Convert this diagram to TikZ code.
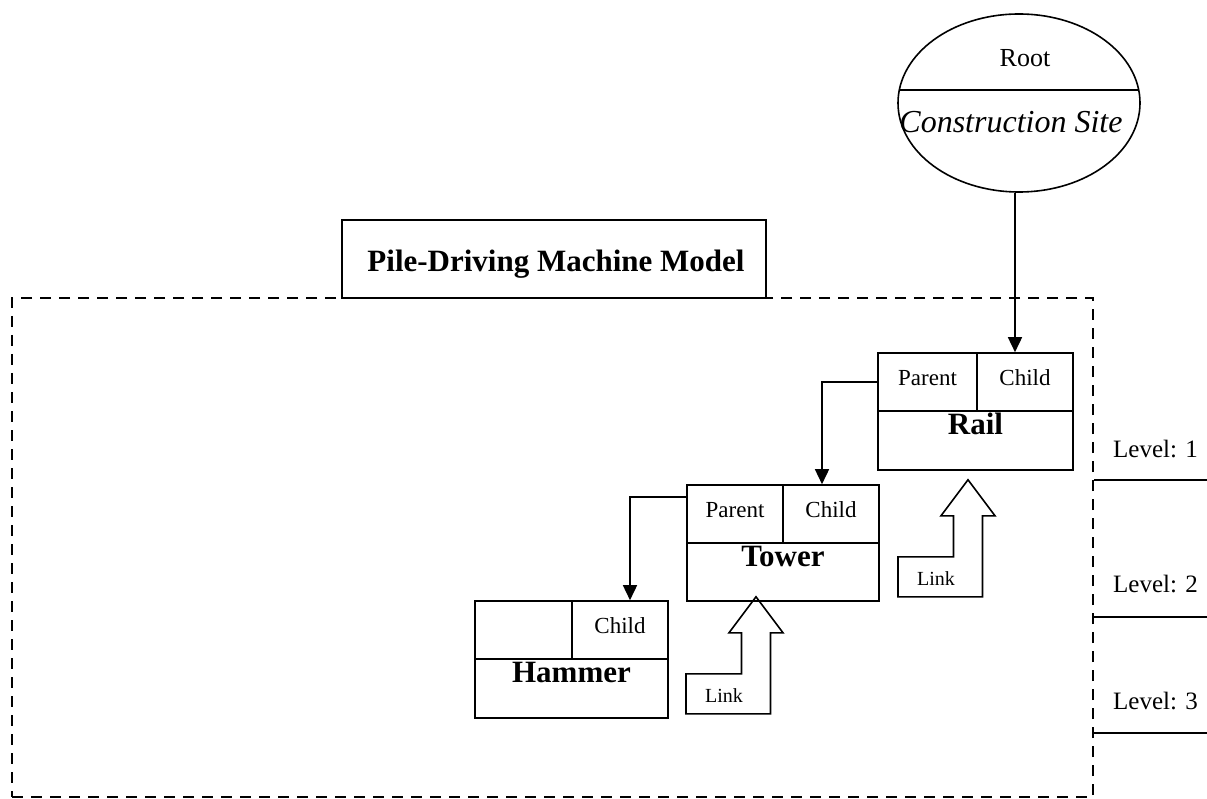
\documentclass[tikz,border=0pt]{standalone}
\usepackage{fontspec}
\setmainfont{Liberation Serif}
\usetikzlibrary{shapes.geometric,arrows.meta,calc}

\tikzset{
  outline/.style={draw=black, line width=1.6pt},
  cell/.style={outline, inner sep=0pt, minimum height=58pt},
  conn/.style={draw=black, line width=1.6pt, -{Triangle[width=14pt,length=15pt]}},
  dashbox/.style={draw=black, line width=2.2pt, dash pattern=on 11pt off 8pt, inner sep=0pt},
  celltext/.style={inner sep=0pt, font=\fontsize{23}{23}\selectfont},
  nametext/.style={inner sep=0pt, font=\bfseries\fontsize{31}{31}\selectfont},
  leveltext/.style={inner sep=0pt, font=\fontsize{25}{25}\selectfont},
  linktext/.style={inner sep=0pt, font=\fontsize{20}{20}\selectfont},
  linkarrow/.pic={
    \draw[line width=1.6pt, line join=miter]
      (0,0) -- (27,36) -- (14.5,36) -- (14.5,117) -- (-70,117) -- (-70,77)
      -- (-14.5,77) -- (-14.5,36) -- (-27,36) -- cycle;
    \node[linktext, anchor=base] (-txt) at (-32,106) {Link};
  }
}

\begin{document}
\begin{tikzpicture}[x=1pt, y=-1pt]
\useasboundingbox (0,0) rectangle (1207,799);

% model frame and its title tab
\node[dashbox, minimum width=1081pt, minimum height=499pt] (frame) at (552.5,547.5) {};
\node[outline, fill=white, minimum width=424pt, minimum height=78pt, inner sep=0pt] (title) at (554,259) {};
\node[nametext, anchor=base] (titletxt) at (556,272) {Pile-Driving Machine Model};

% root ellipse
\node[outline, ellipse, minimum width=242pt, minimum height=178pt, inner sep=0pt] (root) at (1019,103) {};
\draw[line width=1.6pt] ($(root.center)+(-119.7,-13)$) -- ($(root.center)+(119.7,-13)$);
\node[inner sep=0pt, anchor=base, font=\fontsize{26}{26}\selectfont] (roottxt) at (1025,67) {Root};
\node[inner sep=0pt, anchor=base, font=\itshape\fontsize{32}{32}\selectfont] (sitetxt) at (1011,133) {Construction Site};

% Rail
\node[cell, minimum width=99pt] (railP) at (927.5,382) {};
\node[cell, minimum width=96pt] (railC) at (1025,382) {};
\node[cell, minimum width=195pt, minimum height=59pt] (railN) at (975.5,440.5) {};
\node[celltext, anchor=base] (railPt) at ([yshift=-33pt]railP.north) {Parent};
\node[celltext, anchor=base] (railCt) at ([yshift=-33pt]railC.north) {Child};
\node[nametext, anchor=base] (railNt) at ([yshift=-24pt]railN.north) {Rail};

% Tower
\node[cell, minimum width=96pt] (towerP) at (735,514) {};
\node[cell, minimum width=96pt] (towerC) at (831,514) {};
\node[cell, minimum width=192pt] (towerN) at (783,572) {};
\node[celltext, anchor=base] (towerPt) at ([yshift=-33pt]towerP.north) {Parent};
\node[celltext, anchor=base] (towerCt) at ([yshift=-33pt]towerC.north) {Child};
\node[nametext, anchor=base] (towerNt) at ([yshift=-24pt]towerN.north) {Tower};

% Hammer
\node[cell, minimum width=97pt] (hamP) at (523.5,630) {};
\node[cell, minimum width=96pt] (hamC) at (620,630) {};
\node[cell, minimum width=193pt, minimum height=59pt] (hamN) at (571.5,688.5) {};
\node[celltext, anchor=base] (hamCt) at ([yshift=-33pt]hamC.north) {Child};
\node[nametext, anchor=base] (hamNt) at ([yshift=-24pt]hamN.north) {Hammer};

% parent -> child connectors
\draw[conn] ([xshift=-4pt]root.south) -- ([xshift=-4pt]root.south |- railC.north);
\draw[conn] (railP.west) -| ([xshift=-9pt]towerC.north);
\draw[conn] ([yshift=17pt]towerP.west) -| ([xshift=10pt]hamC.north);

% link arrows
\pic (raillink) at ([xshift=-7.5pt,yshift=-9pt]railN.south) {linkarrow};
\pic (towerlink) at ([xshift=-27pt,yshift=5pt]towerN.south) {linkarrow};

% level scale
\coordinate (l1) at (1207,480);
\coordinate (l2) at (1207,617);
\coordinate (l3) at (1207,733);
\draw[line width=1.4pt] (l1 -| frame.east) -- (l1);
\draw[line width=1.4pt] (l2 -| frame.east) -- (l2);
\draw[line width=1.4pt] (l3 -| frame.east) -- (l3);
\node[leveltext, anchor=base west] (lev1) at (1113,457) {Level: 1};
\node[leveltext, anchor=base west] (lev2) at (1113,592) {Level: 2};
\node[leveltext, anchor=base west] (lev3) at (1113,709) {Level: 3};
\end{tikzpicture}
\end{document}
